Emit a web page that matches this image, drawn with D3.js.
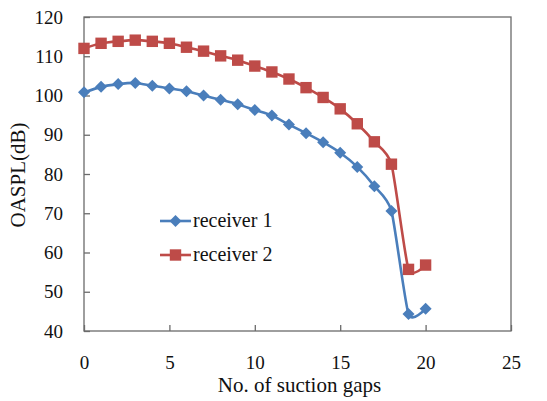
<!DOCTYPE html>
<html>
<head>
<meta charset="utf-8">
<script src="https://cdn.jsdelivr.net/npm/d3@7"></script>
<style>
  body { margin: 0; background: #fff; }
</style>
</head>
<body>
<script>
// values
var gaps = [0, 1, 2, 3, 4, 5, 6, 7, 8, 9, 10, 11, 12, 13, 14, 15, 16, 17, 18, 19, 20];
var receiver1 = [100.8, 102.2, 102.9, 103.2, 102.5, 101.8, 101.1, 100.0, 98.9, 97.8, 96.3,
                 94.9, 92.6, 90.4, 88.1, 85.4, 81.8, 76.9, 70.6, 44.3, 45.7];
var receiver2 = [112.0, 113.3, 113.8, 114.1, 113.8, 113.3, 112.3, 111.3, 110.1, 109.0, 107.5,
                 106.0, 104.2, 102.0, 99.5, 96.6, 92.8, 88.2, 82.5, 55.7, 56.8];
var x_ticks = [0, 5, 10, 15, 20, 25];
var y_ticks = [40, 50, 60, 70, 80, 90, 100, 110, 120];
var series_names = ["receiver 1", "receiver 2"];

var serif = "Liberation Serif";
var width = 547, height = 401;
var margin = {top: 17, right: 36, bottom: 70, left: 84};

var svg = d3.select("body").append("svg")
    .attr("width", width)
    .attr("height", height);

var x = d3.scaleLinear().domain([0, 25]).range([margin.left, width - margin.right]);
var y = d3.scaleLinear().domain([40, 120]).range([height - margin.bottom, margin.top]);

// plot frame
svg.append("rect")
    .attr("x", x(0)).attr("y", y(120))
    .attr("width", x(25) - x(0)).attr("height", y(40) - y(120))
    .attr("fill", "none").attr("stroke", "#6b6b6b").attr("stroke-width", 1.3);

// axes, ticks point into the plot
var xAxis = svg.append("g")
    .attr("transform", "translate(0," + y(40) + ")")
    .call(d3.axisBottom(x).tickValues(x_ticks).tickSize(-6).tickPadding(25).tickSizeOuter(0));
xAxis.select(".domain").remove();
xAxis.selectAll("line").attr("stroke", "#6b6b6b").attr("stroke-width", 1.3);
xAxis.selectAll("text").attr("font-family", serif).attr("font-size", 19).attr("fill", "#111");

var yAxis = svg.append("g")
    .attr("transform", "translate(" + x(0) + ",0)")
    .call(d3.axisLeft(y).tickValues(y_ticks).tickSize(-6).tickPadding(21).tickSizeOuter(0));
yAxis.select(".domain").remove();
yAxis.selectAll("line").attr("stroke", "#6b6b6b").attr("stroke-width", 1.3);
yAxis.selectAll("text").attr("font-family", serif).attr("font-size", 19).attr("fill", "#111");

// axis titles
svg.append("text")
    .attr("x", (x(0) + x(25)) / 2 + 2)
    .attr("y", 392)
    .attr("text-anchor", "middle")
    .attr("font-family", serif)
    .attr("font-size", 21)
    .attr("fill", "#111")
    .text("No. of suction gaps");

svg.append("text")
    .attr("transform", "translate(25,175) rotate(-90)")
    .attr("text-anchor", "middle")
    .attr("font-family", serif)
    .attr("font-size", 21)
    .attr("fill", "#111")
    .text("OASPL(dB)");

var series = [
    {name: series_names[0], values: receiver1, color: "#4a7ebb", rot: 45, size: 72},
    {name: series_names[1], values: receiver2, color: "#be4b48", rot: 0, size: 130}
];

var line = d3.line()
    .x(function(d) { return x(d[0]); })
    .y(function(d) { return y(d[1]); })
    .curve(d3.curveCardinal.tension(0.4));

var marker = function(s) { return d3.symbol().type(d3.symbolSquare).size(s.size); };

series.forEach(function(s) {
    var pts = gaps.map(function(g, i) { return [g, s.values[i]]; });
    svg.append("path")
        .datum(pts)
        .attr("d", line)
        .attr("fill", "none")
        .attr("stroke", s.color)
        .attr("stroke-width", 2.6);
    svg.append("g").selectAll("path")
        .data(pts)
        .enter().append("path")
        .attr("transform", function(d) { return "translate(" + x(d[0]) + "," + y(d[1]) + ") rotate(" + s.rot + ")"; })
        .attr("d", marker(s))
        .attr("fill", s.color);
});

// legend
var legend = svg.append("g");
series.forEach(function(s, i) {
    var ly = 221 + i * 34;
    legend.append("line")
        .attr("x1", 160).attr("x2", 191).attr("y1", ly).attr("y2", ly)
        .attr("stroke", s.color).attr("stroke-width", 2.6);
    legend.append("path")
        .attr("transform", "translate(175.5," + ly + ") rotate(" + s.rot + ")")
        .attr("d", marker(s))
        .attr("fill", s.color);
    legend.append("text")
        .attr("x", 193).attr("y", ly + 6)
        .attr("font-family", serif)
        .attr("font-size", 20)
        .attr("fill", "#111")
        .text(s.name);
});
</script>
</body>
</html>
